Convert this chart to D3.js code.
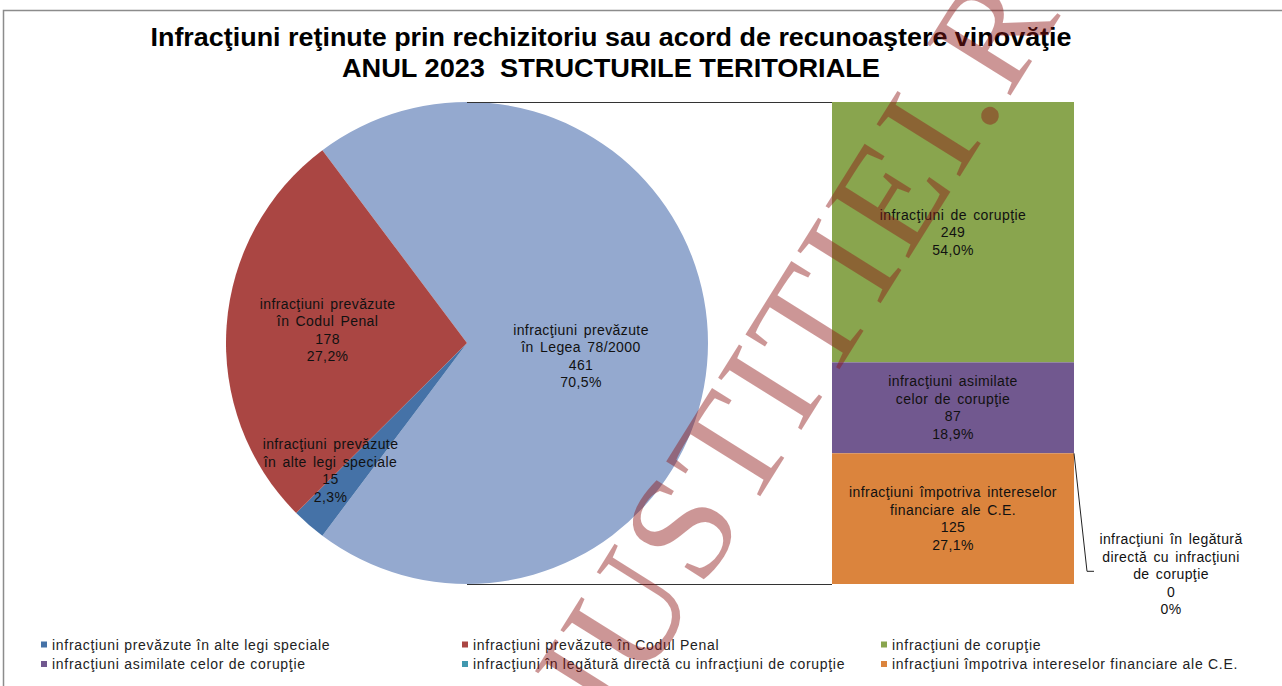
<!DOCTYPE html>
<html lang="ro">
<head>
<meta charset="UTF-8">
<title>Infracţiuni reţinute 2023</title>
<style>
  body { margin: 0; background: #fff; font-family: "Liberation Sans", Arial, sans-serif; }
  svg { display: block; }
  text { white-space: pre; }
</style>
</head>
<body>
<svg id="chart" width="1282" height="686"></svg>
<script src="https://d3js.org/d3.v7.min.js"></script>
<script>
const titleLines = [
  "Infracţiuni reţinute prin rechizitoriu sau acord de recunoaştere vinovăţie",
  "ANUL 2023  STRUCTURILE TERITORIALE"
];

// pie: first slice is the one split out into the bar
const pieLabels = [
  "infracţiuni prevăzute în Legea 78/2000",
  "infracţiuni prevăzute în alte legi speciale",
  "infracţiuni prevăzute în Codul Penal"
];
const pieValues = [461, 15, 178];
const pieColors = ["#94A9CF", "#4572A7", "#AA4643"];

// bar, top to bottom
const barLabels = [
  "infracţiuni de corupţie",
  "infracţiuni asimilate celor de corupţie",
  "infracţiuni în legătură directă cu infracţiuni de corupţie",
  "infracţiuni împotriva intereselor financiare ale C.E."
];
const barValues = [249, 87, 0, 125];
const barColors = ["#89A54E", "#71588F", "#4198AF", "#DB843D"];

const legendLabels = [pieLabels[1], pieLabels[2], barLabels[0], barLabels[1], barLabels[2], barLabels[3]];
const legendColors = [pieColors[1], pieColors[2], barColors[0], barColors[1], barColors[2], barColors[3]];

const watermark = "JUSTITIEI.RO";

const svg = d3.select("#chart");
const ro = d3.formatLocale({decimal: ",", thousands: ".", grouping: [3], currency: ["", " lei"]});
const pct = v => v === 0 ? "0%" : ro.format(".1%")(v);

// chart frame
svg.append("path")
  .attr("d", "M3.5,690 V10.5 H1290")
  .attr("fill", "none").attr("stroke", "#8c8c8c").attr("stroke-width", 1.5);

// title
svg.selectAll(".title").data(titleLines).enter().append("text")
  .attr("class", "title")
  .attr("x", 611)
  .attr("y", (d, i) => 46 + i * 31)
  .attr("text-anchor", "middle")
  .attr("font-size", 25).attr("font-weight", "bold").attr("fill", "#000")
  .attr("textLength", (d, i) => i === 0 ? 921 : 538)
  .attr("lengthAdjust", "spacingAndGlyphs")
  .text(d => d);

// helper: multi-line label
function wrapLines(text, width, style) {
  const tmp = svg.append("text").call(style);
  const words = text.split(" ");
  const lines = [];
  let line = [];
  words.forEach(w => {
    const test = line.concat([w]).join(" ");
    tmp.text(test);
    if (line.length && tmp.node().getComputedTextLength() > width) {
      lines.push(line.join(" "));
      line = [w];
    } else {
      line.push(w);
    }
  });
  if (line.length) lines.push(line.join(" "));
  tmp.remove();
  return lines;
}
const labelStyle = sel => sel
  .attr("font-size", 14).attr("letter-spacing", 0.4).attr("word-spacing", 2)
  .attr("fill", "#111");
const lineH = 17.5;
function drawLabel(x, cy, lines) {
  const t = svg.append("text").call(labelStyle)
    .attr("text-anchor", "middle");
  const y0 = cy - (lines.length - 1) * lineH / 2;
  lines.forEach((l, i) => {
    t.append("tspan").attr("x", x).attr("y", y0 + i * lineH).attr("dy", "0.35em").text(l);
  });
}

// pie
const cx = 467, cy = 343, r = 241;
const pieTotal = d3.sum(pieValues);
const splitFrac = pieValues[0] / pieTotal;
const pie = d3.pie().sort(null)
  .startAngle(Math.PI / 2 - splitFrac * Math.PI)
  .endAngle(Math.PI / 2 - splitFrac * Math.PI + 2 * Math.PI);
const arcs = pie(pieValues);
const arc = d3.arc().innerRadius(0).outerRadius(r);
const g = svg.append("g").attr("transform", `translate(${cx},${cy})`);
g.selectAll("path").data(arcs).enter().append("path")
  .attr("d", arc)
  .attr("fill", (d, i) => pieColors[i]);

// connector lines to bar
const barX0 = 832, barX1 = 1074;
const barY = d3.scaleLinear().domain([0, d3.sum(barValues)]).range([cy - r, cy + r]);
svg.append("line").attr("x1", cx).attr("y1", cy - r + 0.5).attr("x2", barX0).attr("y2", cy - r + 0.5)
  .attr("stroke", "#333").attr("stroke-width", 1);
svg.append("line").attr("x1", cx).attr("y1", cy + r + 0.5).attr("x2", barX0).attr("y2", cy + r + 0.5)
  .attr("stroke", "#333").attr("stroke-width", 1);

// bar
const stackStart = d3.cumsum([0].concat(barValues));
svg.selectAll(".seg").data(barValues).enter().append("rect")
  .attr("class", "seg")
  .attr("x", barX0)
  .attr("y", (d, i) => barY(stackStart[i]))
  .attr("width", barX1 - barX0)
  .attr("height", d => barY(d) - barY(0))
  .attr("fill", (d, i) => barColors[i]);

// pie labels (radius as fraction of r, plus a small nudge like Excel's placement)
const labelRadius = [0.473, 0.8, 0.58];
const labelNudge = [[0, 13], [-10, -18], [0, -3]];
arcs.forEach((a, i) => {
  const k = labelRadius[i] * r;
  const [lx, ly] = d3.arc().innerRadius(k).outerRadius(k).centroid(a);
  const lines = wrapLines(pieLabels[i], 145, labelStyle)
    .concat([String(pieValues[i]), pct(pieValues[i] / pieTotal)]);
  drawLabel(cx + lx + labelNudge[i][0], cy + ly + labelNudge[i][1], lines);
});

// bar labels
const barTotal = d3.sum(barValues);
const barWrap = [220, 160, 152, 220];
barValues.forEach((v, i) => {
  const lines = wrapLines(barLabels[i], barWrap[i], labelStyle)
    .concat([String(v), pct(v / barTotal)]);
  if (v > 0) {
    drawLabel((barX0 + barX1) / 2, (barY(stackStart[i]) + barY(stackStart[i + 1])) / 2, lines);
  } else {
    const yb = barY(stackStart[i]);
    svg.append("polyline")
      .attr("points", `${barX1},${yb} ${barX1 + 13},${yb + 118} ${barX1 + 20},${yb + 118}`)
      .attr("fill", "none").attr("stroke", "#222").attr("stroke-width", 1);
    drawLabel(1171, yb + 121, lines);
  }
});

// legend
const legX = [41, 462, 881];
const legend = svg.selectAll(".leg").data(legendLabels).enter().append("g")
  .attr("class", "leg")
  .attr("transform", (d, i) => `translate(${legX[i % 3]},${645 + Math.floor(i / 3) * 19.5})`);
legend.append("rect").attr("x", 0).attr("y", -3.5).attr("width", 6).attr("height", 6)
  .attr("fill", (d, i) => legendColors[i]);
legend.append("text").attr("x", 11).attr("y", 0).attr("dy", "0.35em")
  .attr("font-size", 14).attr("letter-spacing", 0.7).attr("fill", "#222")
  .text(d => d);

// watermark
svg.append("text")
  .attr("transform", "translate(609,738) rotate(-58)")
  .attr("font-family", "'Liberation Serif', 'DejaVu Serif', serif")
  .attr("font-size", 150).attr("letter-spacing", 4)
  .attr("fill", "rgb(142,22,22)").attr("fill-opacity", 0.45)
  .text(watermark);
</script>
</body>
</html>
